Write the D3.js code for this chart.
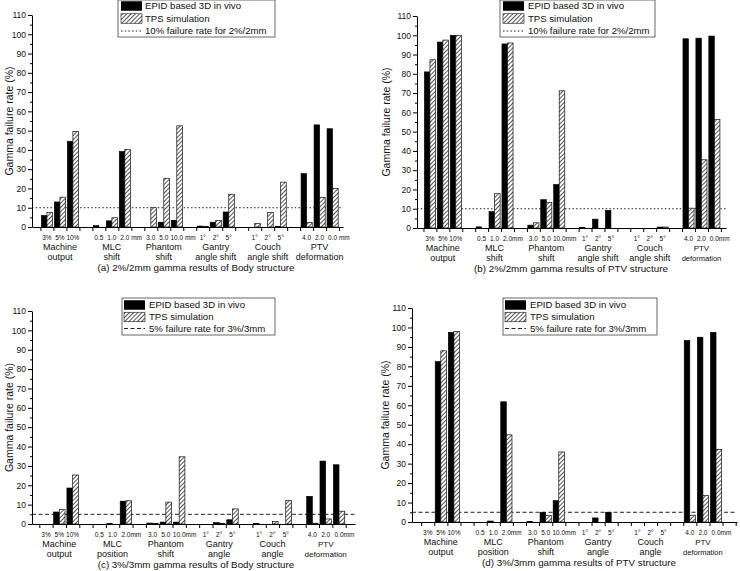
<!DOCTYPE html>
<html>
<head>
<meta charset="utf-8">
<script src="https://cdn.jsdelivr.net/npm/d3@7/dist/d3.min.js"></script>
<style>
  body { margin: 0; background: #fff; }
  svg { display: block; }
  text { font-family: "Liberation Sans", Arial, sans-serif; fill: #111; }
</style>
</head>
<body>
<svg id="chart" width="740" height="571"></svg>
<script>
// ---------------- DATA ----------------
const yTicks = [0, 10, 20, 30, 40, 50, 60, 70, 80, 90, 100, 110];

const tickLabelsA = ["3%", "5%", "10%", "0.5", "1.0", "2.0 mm", "3.0", "5.0", "10.0 mm", "1°", "2°", "5°", "1°", "2°", "5°", "4.0", "2.0", "0.0 mm"];
const tickLabelsB = ["3%", "5%", "10%", "0.5", "1.0", "2.0mm", "3.0", "5.0", "10.0mm", "1°", "2°", "5°", "1°", "2°", "5°", "4.0", "2.0", "0.0mm"];
const tickLabelsCD = ["3%", "5%", "10%", "0.5", "1.0", "2.0mm", "3.0", "5.0", "10.0mm", "1°", "2°", "5°", "1°", "2°", "5°", "4.0", "2.0", "0.0mm"];

const groupsAB = [["Machine", "output"], ["MLC", "shift"], ["Phantom", "shift"], ["Gantry", "angle shift"], ["Couch", "angle shift"], ["PTV", "deformation"]];
const groupsCD = [["Machine", "output"], ["MLC", "position"], ["Phantom", "shift"], ["Gantry", "angle"], ["Couch", "angle"], ["PTV", "deformation"]];

const seriesNames = ["EPID based 3D in vivo", "TPS simulation"];

// (a) 2%/2mm Body
const epidA = [6, 13, 44.5, 0.7, 3.2, 39.2, 0, 2.5, 3.5, 0.5, 2.5, 7.8, 0, 0, 0.3, 27.7, 53, 51];
const tpsA  = [7.5, 15.5, 49.5, 0, 4.8, 40.3, 10, 25.3, 52.5, 0.2, 3.4, 17, 1.8, 7.5, 23.3, 2.3, 15.3, 20];
// (b) 2%/2mm PTV
const epidB = [81, 96.5, 100, 0.6, 8.5, 95.5, 1.5, 14.7, 22.6, 0.3, 4.6, 9.2, 0, 0, 0.5, 98.2, 98.5, 99.6];
const tpsB  = [87.3, 97.5, 100, 0, 17.8, 96, 2.7, 13.2, 71.2, 0, 0, 0, 0, 0, 0.5, 10.3, 35.4, 56.3];
// (c) 3%/3mm Body
const epidC = [0, 6.2, 18.6, 0, 0.2, 11.8, 0.5, 1, 1, 0, 0.8, 2.2, 0.3, 0, 0, 14.3, 32.5, 30.6];
const tpsC  = [0, 7.4, 25.3, 0, 0, 12, 0.3, 11.3, 34.7, 0, 0.3, 7.8, 0, 1.3, 12.2, 0.4, 2.6, 6.6];
// (d) 3%/3mm PTV
const epidD = [0, 82.5, 97.5, 0, 0.5, 61.8, 0.2, 5, 11, 0, 2.1, 5, 0, 0, 0, 93.3, 95, 97.5];
const tpsD  = [0, 88, 98, 0, 0, 44.8, 0, 3.3, 36, 0, 0, 0, 0, 0, 0, 3.5, 13.6, 37.3];

const titles = [
  "(a) 2%/2mm gamma results of Body structure",
  "(b) 2%/2mm gamma results of PTV structure",
  "(c) 3%/3mm gamma results of Body structure",
  "(d) 3%/3mm gamma results of PTV structure"
];
const thresholds = [10, 10, 5, 5];
const thresholdLabels = [
  "10% failure rate for 2%/2mm",
  "10% failure rate for 2%/2mm",
  "5% failure rate for 3%/3mm",
  "5% failure rate for 3%/3mm"
];

// ---------------- LAYOUT ----------------
const panels = [
  { epid: epidA, tps: tpsA, ticks: tickLabelsA, groups: groupsAB, x0: 32, x1: 343, dom: [-1.15, 22.8], yB: 227, yT: 15,
    yTitleX: 9, titleX: 196, dash: "1.5,2.2", legend: { x: 118, y: 0, w: 157, h: 37, sx: 121, tx: 145, rows: [6, 18.5, 31] }, ptvFont: 9 },
  { epid: epidB, tps: tpsB, ticks: tickLabelsB, groups: groupsAB, x0: 417, x1: 726, dom: [-1.0, 22.9], yB: 228, yT: 16,
    yTitleX: 386, titleX: 571, dash: "1.5,2.2", legend: { x: 500, y: 0, w: 155, h: 37, sx: 503, tx: 528, rows: [6, 18.5, 31] }, ptvFont: 7.5 },
  { epid: epidC, tps: tpsC, ticks: tickLabelsCD, groups: groupsCD, x0: 32, x1: 355, dom: [-1.05, 23.2], yB: 524, yT: 311,
    yTitleX: 9, titleX: 196, dash: "4,2.5", legend: { x: 122, y: 298, w: 153, h: 37, sx: 124, tx: 149, rows: [305, 317, 328.5] }, ptvFont: 8 },
  { epid: epidD, tps: tpsD, ticks: tickLabelsCD, groups: groupsCD, x0: 412, x1: 737, dom: [-1.2, 23.6], yB: 522, yT: 308,
    yTitleX: 385, titleX: 579, dash: "4,2.5", legend: { x: 503, y: 298, w: 154, h: 37, sx: 505, tx: 530, rows: [305, 317, 328.5] }, ptvFont: 7.5 }
];

const svg = d3.select("#chart");
const defs = svg.append("defs");
const pat = defs.append("pattern")
  .attr("id", "hatch").attr("patternUnits", "userSpaceOnUse")
  .attr("width", 3).attr("height", 3)
  .attr("patternTransform", "rotate(45)");
pat.append("rect").attr("width", 3).attr("height", 3).attr("fill", "#fff");
pat.append("line").attr("x1", 0.5).attr("y1", 0).attr("x2", 0.5).attr("y2", 3)
  .attr("stroke", "#555").attr("stroke-width", 1);

const slotOf = i => Math.floor(i / 3) * 4 + (i % 3);

panels.forEach((p, pi) => {
  const g = svg.append("g");
  const x = d3.scaleLinear().domain(p.dom).range([p.x0, p.x1]);
  const y = d3.scaleLinear().domain([0, 110]).range([p.yB, p.yT]);
  const bw = x(0.43) - x(0);

  // threshold line (drawn under bars)
  g.append("line")
    .attr("x1", p.x0).attr("x2", p.x1)
    .attr("y1", y(thresholds[pi])).attr("y2", y(thresholds[pi]))
    .attr("stroke", "#222").attr("stroke-width", 1)
    .attr("stroke-dasharray", p.dash);

  // bars
  const items = p.epid.map((v, i) => ({ i, slot: slotOf(i), e: v, t: p.tps[i] }));
  g.selectAll(".be").data(items.filter(d => d.e > 0)).join("rect")
    .attr("x", d => x(d.slot) - bw).attr("width", bw)
    .attr("y", d => y(d.e)).attr("height", d => y(0) - y(d.e))
    .attr("fill", "#000").attr("stroke", "#000").attr("stroke-width", 0.6);
  g.selectAll(".bt").data(items.filter(d => d.t > 0)).join("rect")
    .attr("x", d => x(d.slot)).attr("width", bw)
    .attr("y", d => y(d.t)).attr("height", d => y(0) - y(d.t))
    .attr("fill", "url(#hatch)").attr("stroke", "#111").attr("stroke-width", 0.7);

  // y axis
  const ya = g.append("g").attr("transform", `translate(${p.x0},0)`)
    .call(d3.axisLeft(y).tickValues(yTicks).tickSize(4).tickPadding(2).tickSizeOuter(0));
  ya.selectAll("text").style("font-size", "8.5px").style("font-family", '"Liberation Sans", Arial, sans-serif');
  const yMinor = g.append("g").attr("transform", `translate(${p.x0},0)`)
    .call(d3.axisLeft(y).tickValues(d3.range(5, 110, 10)).tickSize(2).tickFormat("").tickSizeOuter(0));
  yMinor.select(".domain").remove();

  // x axis
  const xt = d3.range(-0.5, p.dom[1], 1);
  const xa = g.append("g").attr("transform", `translate(0,${p.yB})`)
    .call(d3.axisBottom(x).tickValues(xt).tickSize(4).tickFormat("").tickSizeOuter(0));
  g.selectAll(".domain").attr("stroke", "#000");
  g.selectAll(".tick line").attr("stroke", "#000");

  // tick labels
  p.ticks.forEach((lab, i) => {
    const s = slotOf(i);
    const m = lab.match(/^([\d.]+)(\s?mm)$/);
    if (m) {
      const t = g.append("text").attr("y", p.yB + 12.5).style("font-size", "6.5px").text(m[1]);
      const wNum = t.node().getComputedTextLength();
      t.attr("x", x(s) - wNum / 2).text(lab);
    } else {
      g.append("text").attr("x", x(s)).attr("y", p.yB + 12.5)
        .attr("text-anchor", "middle").style("font-size", "6.5px").text(lab);
    }
  });

  // group labels
  p.groups.forEach((gl, gi) => {
    const cx = x(gi * 4 + 1);
    const fs = gi === 5 ? p.ptvFont : 9;
    gl.forEach((line, li) => {
      g.append("text").attr("x", cx).attr("y", p.yB + 22.5 + li * 10.2)
        .attr("text-anchor", "middle").style("font-size", (li === 0 && gi === 5 ? Math.max(fs, 8) : fs) + "px").text(line);
    });
  });

  // title
  g.append("text").attr("x", p.titleX).attr("y", p.yB + 43.5)
    .attr("text-anchor", "middle").style("font-size", "9.8px").text(titles[pi]);

  // y title
  g.append("text")
    .attr("transform", `translate(${p.yTitleX},${(p.yB + p.yT) / 2}) rotate(-90)`)
    .attr("text-anchor", "middle").attr("dy", "0.35em")
    .style("font-size", "10.5px").text("Gamma failure rate (%)");

  // legend
  const L = p.legend;
  const lg = g.append("g");
  lg.append("rect").attr("x", L.x).attr("y", L.y).attr("width", L.w).attr("height", L.h)
    .attr("fill", "#fff").attr("stroke", "#444").attr("stroke-width", 0.8);
  const sw = 21, sh = 9.5;
  lg.append("rect").attr("x", L.sx).attr("y", L.rows[0] - sh / 2).attr("width", sw).attr("height", sh)
    .attr("fill", "#000");
  lg.append("rect").attr("x", L.sx).attr("y", L.rows[1] - sh / 2).attr("width", sw).attr("height", sh)
    .attr("fill", "url(#hatch)").attr("stroke", "#111").attr("stroke-width", 0.6);
  lg.append("line").attr("x1", L.sx).attr("x2", L.sx + sw).attr("y1", L.rows[2]).attr("y2", L.rows[2])
    .attr("stroke", "#222").attr("stroke-width", 1).attr("stroke-dasharray", p.dash);
  const labels = [seriesNames[0], seriesNames[1], thresholdLabels[pi]];
  labels.forEach((t, k) => {
    lg.append("text").attr("x", L.tx).attr("y", L.rows[k]).attr("dy", "0.36em")
      .style("font-size", "9.6px").text(t);
  });
});
</script>
</body>
</html>
